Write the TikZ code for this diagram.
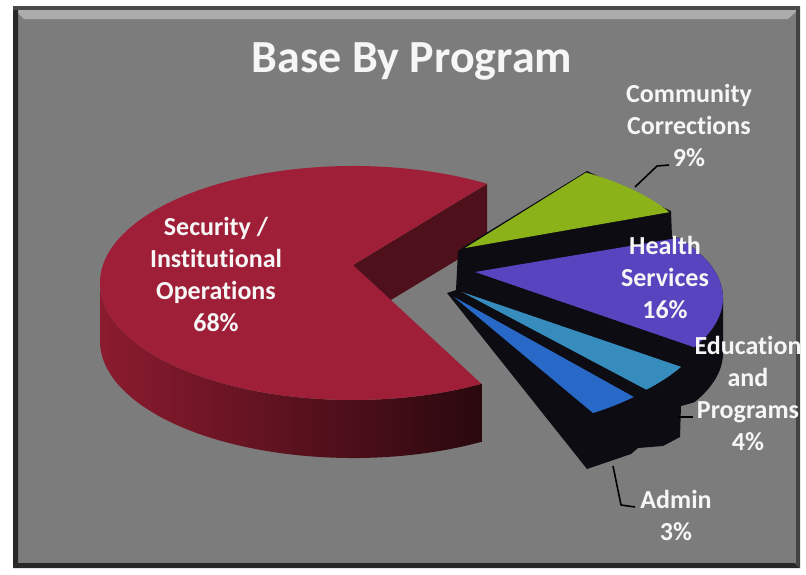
\documentclass[tikz,border=0pt]{standalone}
\usepackage{fontspec}
\setmainfont{Carlito}[Ligatures=NoCommon]
\definecolor{framegray}{RGB}{124,124,124}
\definecolor{framelight}{RGB}{172,172,172}
\definecolor{framedark}{RGB}{40,40,40}
\definecolor{redtop}{RGB}{160,31,56}
\definecolor{redsideL}{RGB}{140,27,47}
\definecolor{redsideR}{RGB}{42,8,14}
\definecolor{redcut}{RGB}{78,17,27}
\definecolor{greentop}{RGB}{140,178,25}
\definecolor{purptop}{RGB}{88,68,190}
\definecolor{tealtop}{RGB}{55,140,190}
\definecolor{bluetop}{RGB}{40,105,200}
\definecolor{sideblack}{RGB}{12,12,18}
\definecolor{labelwhite}{RGB}{246,246,246}
\begin{document}
\begin{tikzpicture}[x=1pt,y=-1pt,
  lbl/.style={text=labelwhite,font=\bfseries\fontsize{26}{32}\selectfont,align=center,anchor=base,inner sep=0pt},
  ttl/.style={text=labelwhite,font=\bfseries\fontsize{46}{50}\selectfont,anchor=base,inner sep=0pt},
  leader/.style={draw=black,line width=1.6pt,line join=round}]
\useasboundingbox (0,0) rectangle (806,574);
\fill[white] (0,0) rectangle (806,574);
% frame
\fill[framegray] (13,6) rectangle (800,568);
\fill[framelight] (15,10) -- (798,10) -- (788,19) -- (24,19) -- cycle;
\fill[framedark] (13,6) -- (18,10) -- (18,563) -- (13,568) -- cycle;
\fill[framedark] (13,568) -- (18,563) -- (795,563) -- (800,568) -- cycle;
\fill[framedark!70!framegray] (800,6) -- (796,10) -- (796,563) -- (800,568) -- cycle;
\fill[framedark!60!framegray] (13,6) rectangle (800,10);
% red slice
\fill[redcut] (353,265) -- ([shift={(353,283)}]-58:253 and 117) -- ++(0,58) -- (353,323) -- cycle;
\shade[left color=redsideL,right color=redsideR]
  ([shift={(353,283)}]180:253 and 117) arc[start angle=180,end angle=59.5,x radius=253,y radius=117]
  -- ++(0,58) arc[start angle=59.5,end angle=180,x radius=253,y radius=117] -- cycle;
\fill[redtop] (353,265) -- ([shift={(353,283)}]-58:253 and 117)
  arc[start angle=-58,end angle=-300.5,x radius=253,y radius=117] -- cycle;
% right group: dark sides
\fill[sideblack] (458,251) -- (465,246) -- (587,171) -- (671,211) -- (672,237)
  -- ([shift={(478,298)}]-35:245 and 105) arc[start angle=-35,end angle=0,x radius=245,y radius=105]
  -- ++(0,55) arc[start angle=0,end angle=28,x radius=245,y radius=105]
  -- (681,406) -- (680,437) -- (663,446) -- (638,448) -- (631,454) -- (587,469)
  -- (447,293) -- (456,290) -- cycle;
% tops
\fill[greentop] (465,248) -- ([shift={(465,266)}]-59:235 and 109)
  arc[start angle=-59,end angle=-29.6,x radius=235,y radius=109] -- cycle;
\fill[purptop] (475,272) -- ([shift={(478,298)}]-35:245 and 105)
  arc[start angle=-35,end angle=28,x radius=245,y radius=105] -- cycle;
\fill[tealtop] (462,292) -- ([shift={(462,310)}]28.8:250 and 118)
  arc[start angle=28.8,end angle=42.5,x radius=250,y radius=118] -- cycle;
\fill[bluetop] (454,297) -- ([shift={(454,315)}]44:250 and 118)
  arc[start angle=44,end angle=56.2,x radius=250,y radius=118] -- cycle;
% title and labels (anchored at the baseline of the last line)
\node[ttl] (title) at (412,72) {Base By Program};
\node[lbl] (sec) at (216,331) {Security /\\Institutional\\Operations\\68\%};
\node[lbl] (cc) at (689,166) {Community\\Corrections\\9\%};
\node[lbl] (hs) at (665,318) {Health\\Services\\16\%};
\node[lbl] (ed) at (748,450) {Education\\and\\Programs\\4\%};
\node[lbl] (ad) at (676,540) {Admin\\3\%};
% leaders
\coordinate (ccA) at (635,187);
\coordinate (ccB) at (669,165);
\coordinate (edA) at (678,417);
\coordinate (edB) at (693,417);
\coordinate (adA) at (613,466);
\coordinate (adB) at (635,507);
\draw[leader] (ccA) -- (657,166) -- (ccB);
\draw[leader] (edA) -- (edB);
\draw[leader] (adA) -- (621,505) -- (adB);
\end{tikzpicture}
\end{document}
